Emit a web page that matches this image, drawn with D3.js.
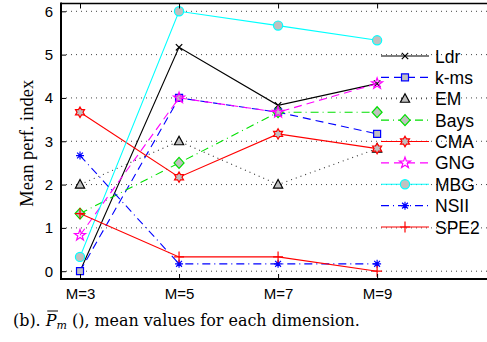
<!DOCTYPE html>
<meta charset="utf-8">
<style>
body { margin: 0; background: #fff; }
svg { display: block; }
.tick text { font-family: "Liberation Sans", Arial, sans-serif; font-size: 15px; fill: #000; }
.grid line { stroke: #444; stroke-width: 1; stroke-dasharray: 1,4; }
.legend text { font-family: "Liberation Sans", Arial, sans-serif; font-size: 17.5px; }
</style>
<svg width="487" height="342"></svg>
<script src="https://d3js.org/d3.v7.min.js"></script>
<script>
var svg = d3.select("svg"),
    width = +svg.attr("width"),
    height = +svg.attr("height");

// data
var dims = [3, 5, 7, 9];
var tickLabels = ["M=3", "M=5", "M=7", "M=9"];
var names = ["Ldr", "k-ms", "EM", "Bays", "CMA", "GNG", "MBG", "NSII", "SPE2"];
var ldr  = [0, 5.17, 3.83, 4.33];
var kms  = [0, 4.0, 3.67, 3.17];
var em   = [2, 3.0, 2.0, 2.83];
var bays = [1.33, 2.5, 3.67, 3.67];
var cma  = [3.67, 2.17, 3.17, 2.83];
var gng  = [0.83, 4.0, 3.67, 4.33];
var mbg  = [0.33, 6.0, 5.67, 5.33];
var nsii = [2.67, 0.17, 0.17, 0.17];
var spe2 = [1.33, 0.33, 0.33, 0];
var values = [ldr, kms, em, bays, cma, gng, mbg, nsii, spe2];

// styles: colour, dash, marker, marker fill
var styles = [
  {c: "#000", dash: null, m: "x", f: "none"},
  {c: "#0000ff", dash: "8,5", m: "square", f: "#c0c0c0"},
  {c: "#000", dash: "1,4", m: "triangle", f: "#c0c0c0", lineC: "#333"},
  {c: "#00e000", dash: "8,4,1,4", m: "diamond", f: "#c0c0c0"},
  {c: "#ff0000", dash: null, m: "hexagram", f: "#c0c0c0"},
  {c: "#ff00ff", dash: "8,5", m: "pentagram", f: "none"},
  {c: "#00ffff", dash: null, m: "circle", f: "#c0c0c0"},
  {c: "#0000ff", dash: "8,4,1,4", m: "asterisk", f: "none"},
  {c: "#ff0000", dash: null, m: "plus", f: "none"}
];

var padL = 61, padT = 3.5, padR = 490, padB = 279;

var x = d3.scaleLinear().domain([2.616, 11.28]).range([padL, padR]);
var y = d3.scaleLinear().domain([-0.18, 6.18]).range([padB, padT]);

// grid
svg.append("g").attr("class", "grid")
  .selectAll("line").data(d3.range(0, 7))
  .enter().append("line")
  .attr("x1", padL).attr("x2", padR)
  .attr("y1", function(d) { return y(d); })
  .attr("y2", function(d) { return y(d); });

function markerPath(t) {
  var p = d3.path(), i, a, r;
  if (t === "x") {
    var s = 3.2;
    p.moveTo(-s, -s); p.lineTo(s, s); p.moveTo(-s, s); p.lineTo(s, -s);
  } else if (t === "square") {
    p.rect(-3.5, -3.5, 7, 7);
  } else if (t === "triangle") {
    p.moveTo(0, -5); p.lineTo(4.6, 3.5); p.lineTo(-4.6, 3.5); p.closePath();
  } else if (t === "diamond") {
    p.moveTo(0, -5.5); p.lineTo(5, 0); p.lineTo(0, 5.5); p.lineTo(-5, 0); p.closePath();
  } else if (t === "hexagram") {
    for (i = 0; i < 12; i++) {
      a = -Math.PI / 2 + i * Math.PI / 6;
      r = i % 2 ? 5.2 / Math.sqrt(3) : 5.2;
      if (i) p.lineTo(r * Math.cos(a), r * Math.sin(a)); else p.moveTo(r * Math.cos(a), r * Math.sin(a));
    }
    p.closePath();
  } else if (t === "pentagram") {
    for (i = 0; i < 10; i++) {
      a = -Math.PI / 2 + i * Math.PI / 5;
      r = i % 2 ? 2.3 : 5.8;
      if (i) p.lineTo(r * Math.cos(a), r * Math.sin(a)); else p.moveTo(r * Math.cos(a), r * Math.sin(a));
    }
    p.closePath();
  } else if (t === "circle") {
    p.arc(0, 0, 4.6, 0, 2 * Math.PI);
  } else if (t === "asterisk") {
    var s2 = 4, d = 2.9;
    p.moveTo(-s2, 0); p.lineTo(s2, 0); p.moveTo(0, -s2); p.lineTo(0, s2);
    p.moveTo(-d, -d); p.lineTo(d, d); p.moveTo(-d, d); p.lineTo(d, -d);
  } else if (t === "plus") {
    p.moveTo(-5, 0); p.lineTo(5, 0); p.moveTo(0, -5.5); p.lineTo(0, 5.5);
  }
  return p.toString();
}

var line = d3.line()
  .x(function(d, i) { return x(dims[i]); })
  .y(function(d) { return y(d); });

var series = svg.append("g").selectAll("g")
  .data(values).enter().append("g");

series.append("path")
  .attr("d", line)
  .attr("fill", "none")
  .attr("stroke", function(d, i) { return styles[i].lineC || styles[i].c; })
  .attr("stroke-width", 1.1)
  .attr("stroke-dasharray", function(d, i) { return styles[i].dash; });

series.each(function(vals, i) {
  var st = styles[i];
  d3.select(this).selectAll(".mk").data(vals).enter().append("path")
    .attr("class", "mk")
    .attr("transform", function(d, j) { return "translate(" + x(dims[j]) + "," + y(d) + ")"; })
    .attr("d", markerPath(st.m))
    .attr("fill", st.f)
    .attr("stroke", st.c)
    .attr("stroke-width", 1.2);
});

// axes
var yAxis = d3.axisLeft(y).tickValues(d3.range(0, 7)).tickFormat(d3.format("d"))
  .tickSize(-5).tickPadding(8);
var gy = svg.append("g").attr("transform", "translate(" + padL + ",0)").call(yAxis);
gy.select(".domain").remove();

var xAxis = d3.axisBottom(x).tickValues(dims).tickSize(-5).tickPadding(9)
  .tickFormat(function(d, i) { return tickLabels[i]; });
var gx = svg.append("g").attr("transform", "translate(0," + padB + ")").call(xAxis);
gx.select(".domain").remove();

var gt = svg.append("g").attr("transform", "translate(0," + padT + ")")
  .call(d3.axisTop(x).tickValues(dims).tickSize(-5).tickFormat(""));
gt.select(".domain").remove();
svg.selectAll(".tick line").attr("stroke", "#000");

svg.append("line").attr("x1", padL).attr("x2", padR).attr("y1", padT).attr("y2", padT)
  .attr("stroke", "#000").attr("stroke-width", 1.5);
svg.append("line").attr("x1", padL).attr("x2", padL).attr("y1", padT - 1).attr("y2", padB + 1)
  .attr("stroke", "#000").attr("stroke-width", 2);
svg.append("line").attr("x1", padL - 1).attr("x2", padR).attr("y1", padB).attr("y2", padB)
  .attr("stroke", "#000").attr("stroke-width", 2);

// y label
svg.append("text")
  .attr("transform", "translate(33," + ((padT + padB) / 2 + 2) + ") rotate(-90)")
  .attr("text-anchor", "middle")
  .style("font-family", "'Liberation Serif', 'Times New Roman', serif")
  .style("font-size", "18.5px")
  .text("Mean perf. index");

// legend
var lg = svg.append("g").attr("class", "legend");
var rowY = d3.scaleLinear().domain([0, 8]).range([56, 227]);
names.forEach(function(n, i) {
  var st = styles[i], yy = rowY(i);
  lg.append("line").attr("x1", 381).attr("x2", 429).attr("y1", yy).attr("y2", yy)
    .attr("stroke", st.lineC || st.c).attr("stroke-width", 1.1)
    .attr("stroke-dasharray", st.dash);
  lg.append("path").attr("transform", "translate(405," + yy + ")")
    .attr("d", markerPath(st.m)).attr("fill", st.f).attr("stroke", st.c).attr("stroke-width", 1.2);
  lg.append("text").attr("x", 435).attr("y", yy + 6.5).text(n);
});

// caption, fitted to the width it has in the picture
var cap = svg.append("text")
  .attr("x", 13).attr("y", 326)
  .style("font-family", "'DejaVu Serif', serif")
  .style("font-size", "16px");
cap.append("tspan").text("(b). ");
cap.append("tspan").style("font-style", "italic").text("P");
cap.append("tspan").style("font-style", "italic").style("font-size", "11px").attr("dy", 3).text("m");
cap.append("tspan").attr("dy", -3).text(" (), mean values for each dimension.");
var w = cap.node().getComputedTextLength();
cap.style("font-size", (16 * 347 / w).toFixed(2) + "px");
var pStart = cap.node().getStartPositionOfChar(5), pEnd = cap.node().getEndPositionOfChar(5);
svg.append("line").attr("x1", pStart.x + 1.5).attr("x2", pEnd.x + 1.5)
  .attr("y1", 311).attr("y2", 311).attr("stroke", "#000").attr("stroke-width", 1);
</script>
